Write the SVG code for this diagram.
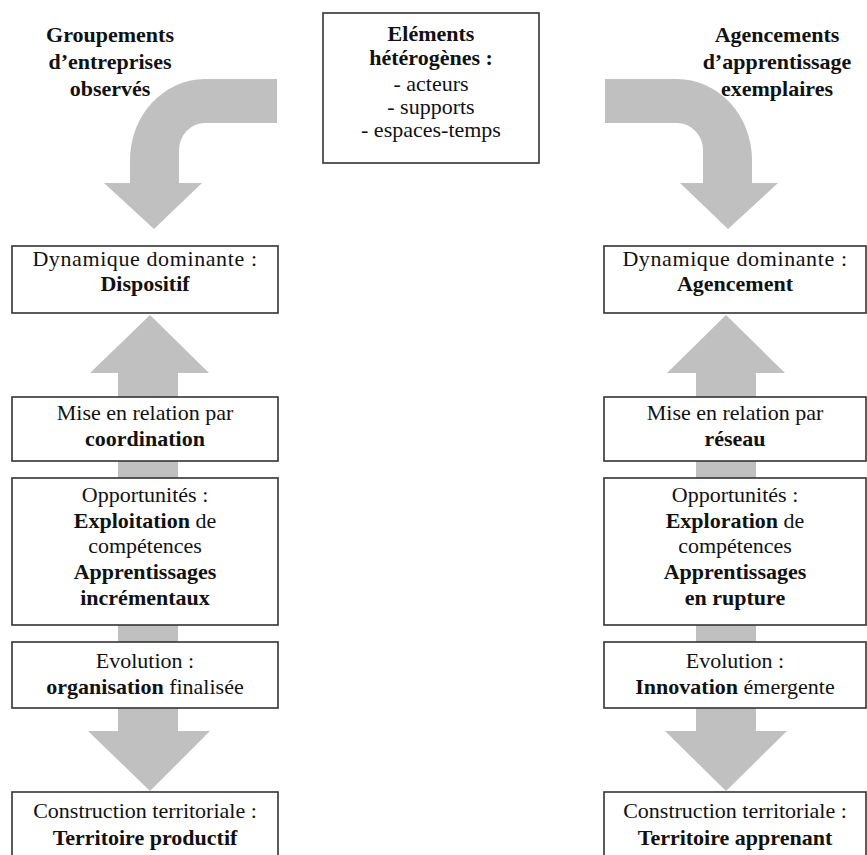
<svg xmlns="http://www.w3.org/2000/svg" width="867" height="855" viewBox="0 0 867 855" font-family="'Liberation Serif', 'Times New Roman', 'DejaVu Serif', serif">
<style>
.bg{fill:#ffffff}
.box{fill:#ffffff;stroke:#333333;stroke-width:1.6}
.arr{fill:#c0c0c0;stroke:none}
.t{font-family:'Liberation Serif','Times New Roman','DejaVu Serif',serif;font-size:22px;fill:#111111;text-anchor:middle}
.b{font-weight:bold}
.w{letter-spacing:0.6px}
</style>
<rect class="bg" x="0" y="0" width="867" height="855"/>
<g id="connectors">
<path class="arr" d="M277,79 L205,79 A75,81 0 0 0 130,160 L130,183 L104,183 L154,229 L202,183 L179,183 L179,150 A26,27 0 0 1 205,123 L277,123 Z"/>
<path class="arr" d="M605,79 L677,79 A75,81 0 0 1 752,160 L752,183 L778,183 L728,229 L680,183 L703,183 L703,150 A26,27 0 0 0 677,123 L605,123 Z"/>
<path class="arr" d="M118,480 L118,373 L90,373 L150,315 L209,373 L178,373 L178,480 Z"/>
<path class="arr" d="M118,600 L118,731 L88,731 L150,791 L210,731 L178,731 L178,600 Z"/>
<path class="arr" d="M696,480 L696,373 L667,373 L726,315 L785,373 L756,373 L756,480 Z"/>
<path class="arr" d="M696,600 L696,731 L665,731 L726,791 L787,731 L756,731 L756,600 Z"/>
</g>
<g id="title-left">
<text class="t b" x="110" y="42">Groupements</text>
<text class="t b" x="110" y="69">d’entreprises</text>
<text class="t b" x="110" y="96">observés</text>
</g>
<g id="title-right">
<text class="t b" x="777" y="42">Agencements</text>
<text class="t b" x="777" y="69">d’apprentissage</text>
<text class="t b" x="777" y="96">exemplaires</text>
</g>
<g id="elements">
<rect class="box" x="323" y="13" width="216" height="150"/>
<text class="t b" x="431" y="41">Eléments</text>
<text class="t b" x="431" y="65">hétérogènes :</text>
<text class="t" x="431" y="91">- acteurs</text>
<text class="t" x="431" y="114">- supports</text>
<text class="t" x="431" y="137">- espaces-temps</text>
</g>
<g id="dyn-left">
<rect class="box" x="12" y="246" width="266" height="67"/>
<text class="t w" x="145" y="266">Dynamique dominante :</text>
<text class="t b" x="145" y="291">Dispositif</text>
</g>
<g id="mise-left">
<rect class="box" x="12" y="397" width="266" height="64"/>
<text class="t" x="145" y="420">Mise en relation par</text>
<text class="t b" x="145" y="446">coordination</text>
</g>
<g id="opp-left">
<rect class="box" x="12" y="478" width="266" height="147"/>
<text class="t" x="145" y="502">Opportunités :</text>
<text class="t" x="145" y="528"><tspan class="b">Exploitation</tspan> de</text>
<text class="t" x="145" y="553">compétences</text>
<text class="t b" x="145" y="579">Apprentissages</text>
<text class="t b" x="145" y="605">incrémentaux</text>
</g>
<g id="evo-left">
<rect class="box" x="12" y="642" width="266" height="66"/>
<text class="t" x="145" y="668">Evolution :</text>
<text class="t" x="145" y="694"><tspan class="b">organisation</tspan> finalisée</text>
</g>
<g id="cons-left">
<rect class="box" x="12" y="792" width="266" height="80"/>
<text class="t" x="145" y="818">Construction territoriale :</text>
<text class="t b" x="145" y="845">Territoire productif</text>
</g>
<g id="dyn-right">
<rect class="box" x="604" y="246" width="262" height="67"/>
<text class="t w" x="735" y="266">Dynamique dominante :</text>
<text class="t b" x="735" y="291">Agencement</text>
</g>
<g id="mise-right">
<rect class="box" x="604" y="397" width="262" height="64"/>
<text class="t" x="735" y="420">Mise en relation par</text>
<text class="t b" x="735" y="446">réseau</text>
</g>
<g id="opp-right">
<rect class="box" x="604" y="478" width="262" height="147"/>
<text class="t" x="735" y="502">Opportunités :</text>
<text class="t" x="735" y="528"><tspan class="b">Exploration</tspan> de</text>
<text class="t" x="735" y="553">compétences</text>
<text class="t b" x="735" y="579">Apprentissages</text>
<text class="t b" x="735" y="605">en rupture</text>
</g>
<g id="evo-right">
<rect class="box" x="604" y="642" width="262" height="66"/>
<text class="t" x="735" y="668">Evolution :</text>
<text class="t" x="735" y="694"><tspan class="b">Innovation</tspan> émergente</text>
</g>
<g id="cons-right">
<rect class="box" x="604" y="792" width="262" height="80"/>
<text class="t" x="735" y="818">Construction territoriale :</text>
<text class="t b" x="735" y="845">Territoire apprenant</text>
</g>
</svg>
